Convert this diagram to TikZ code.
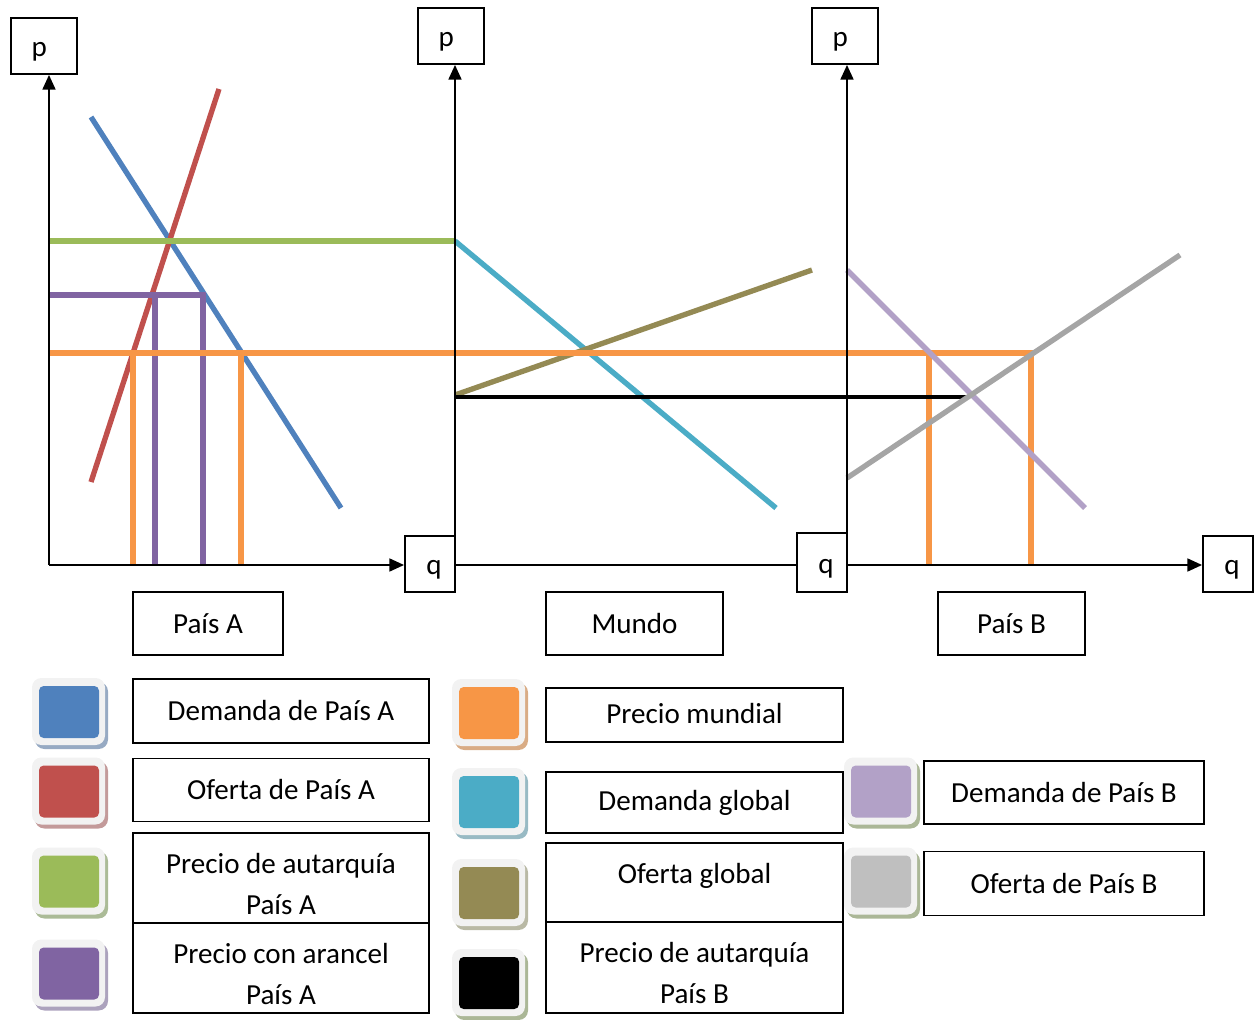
\documentclass[tikz,border=0pt]{standalone}
\usepackage{fontspec}
\setmainfont{Carlito}
\usetikzlibrary{arrows.meta}
\definecolor{cBlue}{HTML}{4F81BD}
\definecolor{cRed}{HTML}{C0504D}
\definecolor{cGreen}{HTML}{9BBB59}
\definecolor{cPurple}{HTML}{8064A2}
\definecolor{cOrange}{HTML}{F79646}
\definecolor{cTeal}{HTML}{4BACC6}
\definecolor{cOlive}{HTML}{948A54}
\definecolor{cLav}{HTML}{B2A1C7}
\definecolor{cGrayLine}{HTML}{A5A5A5}
\definecolor{cGraySw}{HTML}{BFBFBF}
\definecolor{cWhiteSw}{HTML}{F2F2F2}
\definecolor{sBlue}{HTML}{97AAC3}
\definecolor{sRed}{HTML}{C39A9A}
\definecolor{sGreen}{HTML}{ABBB97}
\definecolor{sPurple}{HTML}{ACA2BD}
\definecolor{sOrange}{HTML}{D9AC85}
\definecolor{sTeal}{HTML}{98BAC4}
\definecolor{sOlive}{HTML}{B9B9A5}
\definecolor{sKhaki}{HTML}{ABB797}
\newcommand\swatchbox[4]{%
  \begin{scope}[shift={(#1,#2)}]
    \fill[#4, rounded corners=7pt] (-34,-30) rectangle (39,37);
    \fill[cWhiteSw, rounded corners=7pt] (-37,-34) rectangle (36,33);
    \fill[#3, rounded corners=3.5pt] (-30,-26) rectangle (30,26);
  \end{scope}}
\begin{document}
\begin{tikzpicture}[x=0.75pt,y=-0.75pt,
  ax/.style={line width=1.9pt,-{Triangle[length=11pt,width=9.5pt]}},
  axn/.style={line width=1.9pt},
  fnt/.style={font=\fontsize{21.8}{30.75}\selectfont},
  bx/.style={draw,line width=1.3pt,inner sep=0pt,fill=white,align=center,fnt},
  pq/.style={text height=20.5pt,text depth=4.4pt},
  wh/.style 2 args={minimum width=#1*0.75pt,minimum height=#2*0.75pt},
  cv/.style={line width=4pt}]
\useasboundingbox (0,0) rectangle (1256,1020);

% axis boxes
\node[bx,pq,wh={66}{56}] (pA) at (44,46) {p\hspace{7pt}};
\node[bx,pq,wh={66}{56}] (pM) at (451,36) {p\hspace{7pt}};
\node[bx,pq,wh={66}{56}] (pB) at (845,36) {p\hspace{7pt}};
\node[bx,pq,wh={50}{56}] (qA) at (430,564) {\hspace{6pt}q};
\node[bx,pq,wh={50}{59}] (qM) at (822,562.5) {\hspace{6pt}q};
\node[bx,pq,wh={50}{56}] (qB) at (1228,564) {\hspace{6pt}q};

\coordinate (oA) at (49,565);
\coordinate (oM) at (455,565);
\coordinate (oB) at (847,565);

% curves
\coordinate (bA1) at (91,117);  \coordinate (bA2) at (341,508);
\coordinate (rA1) at (91,482);  \coordinate (rA2) at (219,89);
\coordinate (gA1) at (49,241);  \coordinate (gA2) at (455,241);
\coordinate (pu1) at (49,295);  \coordinate (pu2) at (203,295);
\coordinate (pu3) at (155,295); \coordinate (pu4) at (155,565);
\coordinate (pu5) at (203,565);
\coordinate (or1) at (49,353);  \coordinate (or2) at (1031,353);
\coordinate (or3) at (133,353); \coordinate (or4) at (133,565);
\coordinate (or5) at (241,353); \coordinate (or6) at (241,565);
\coordinate (or7) at (929,353); \coordinate (or8) at (929,565);
\coordinate (or9) at (1031,565);
\coordinate (tG1) at (455,241); \coordinate (tG2) at (776,508);
\coordinate (oG1) at (455,395); \coordinate (oG2) at (812,270);
\coordinate (bk1) at (455,397); \coordinate (bk2) at (968,397);
\coordinate (lB1) at (847,270); \coordinate (lB2) at (1085,508);
\coordinate (gB1) at (847,478); \coordinate (gB2) at (1180,255);

\draw[cv,cBlue] (bA1) -- (bA2);
\draw[cv,cRed] (rA1) -- (rA2);
\draw[cv,cGreen] (gA1) -- (gA2);
\draw[cv,cPurple] (pu1) -- (pu2) -- (pu5);
\draw[cv,cPurple] (pu3) -- (pu4);
\draw[cv,cTeal] (tG1) -- (tG2);
\draw[cv,cOlive] (oG1) -- (oG2);
\draw[cv,cOrange] (or1) -- (or2) -- (or9);
\draw[cv,cOrange] (or3) -- (or4);
\draw[cv,cOrange] (or5) -- (or6);
\draw[cv,cOrange] (or7) -- (or8);
\draw[line width=3.4pt,black] (bk1) -- (bk2);
\draw[cv,cLav] (lB1) -- (lB2);
\draw[cv,cGrayLine] (gB1) -- (gB2);

% axes
\draw[ax] (oA) -- (oA |- pA.south);
\draw[ax] (oA) -- (oA -| qA.west);
\draw[ax] (oM) -- (oM |- pM.south);
\draw[axn] (oM) -- (oM -| qM.west);
\draw[ax] (oB) -- (oB |- pB.south);
\draw[ax] (oB) -- (oB -| qB.west);

% panel labels
\node[bx,wh={150}{63}] (lA) at (208,623.5) {País A};
\node[bx,wh={177}{63}] (lM) at (634.5,623.5) {Mundo};
\node[bx,wh={147}{63}] (lB) at (1011.5,623.5) {País B};

% legend swatches
\swatchbox{69}{712}{cBlue}{sBlue}
\swatchbox{69}{791.5}{cRed}{sRed}
\swatchbox{69}{881.5}{cGreen}{sGreen}
\swatchbox{69}{973.5}{cPurple}{sPurple}
\swatchbox{489}{713}{cOrange}{sOrange}
\swatchbox{489}{802}{cTeal}{sTeal}
\swatchbox{489}{893}{cOlive}{sOlive}
\swatchbox{489}{983}{black}{sKhaki}
\swatchbox{881}{791.5}{cLav}{sKhaki}
\swatchbox{881}{881.5}{cGraySw}{sKhaki}

% legend texts
\node[bx,wh={296}{64}] (t1) at (281,711) {Demanda de País A};
\node[bx,wh={296}{63}] (t2) at (281,790) {Oferta de País A};
\node[bx,wh={296}{90}] (t3) at (281,878) {};
\node[fnt,align=center] (t3t) at (281,884) {Precio de autarquía\\País A};
\node[bx,wh={296}{90}] (t4) at (281,968) {};
\node[fnt,align=center] (t4t) at (281,974) {Precio con arancel\\País A};
\node[bx,wh={297}{54}] (t5) at (694.5,715) {\strut Precio mundial};
\node[bx,wh={297}{61}] (t6) at (694.5,802.5) {\strut Demanda global};
\node[bx,wh={297}{79}] (t7) at (694.5,882.5) {};
\node[fnt] (t7t) at (694.5,876) {Oferta global};
\node[bx,wh={297}{91}] (t8) at (694.5,967.5) {};
\node[fnt,align=center] (t8t) at (694.5,973) {Precio de autarquía\\País B};
\node[bx,wh={280}{63}] (t9) at (1064,792.5) {Demanda de País B};
\node[bx,wh={280}{64}] (t10) at (1064,883.5) {Oferta de País B};
\end{tikzpicture}
\end{document}
